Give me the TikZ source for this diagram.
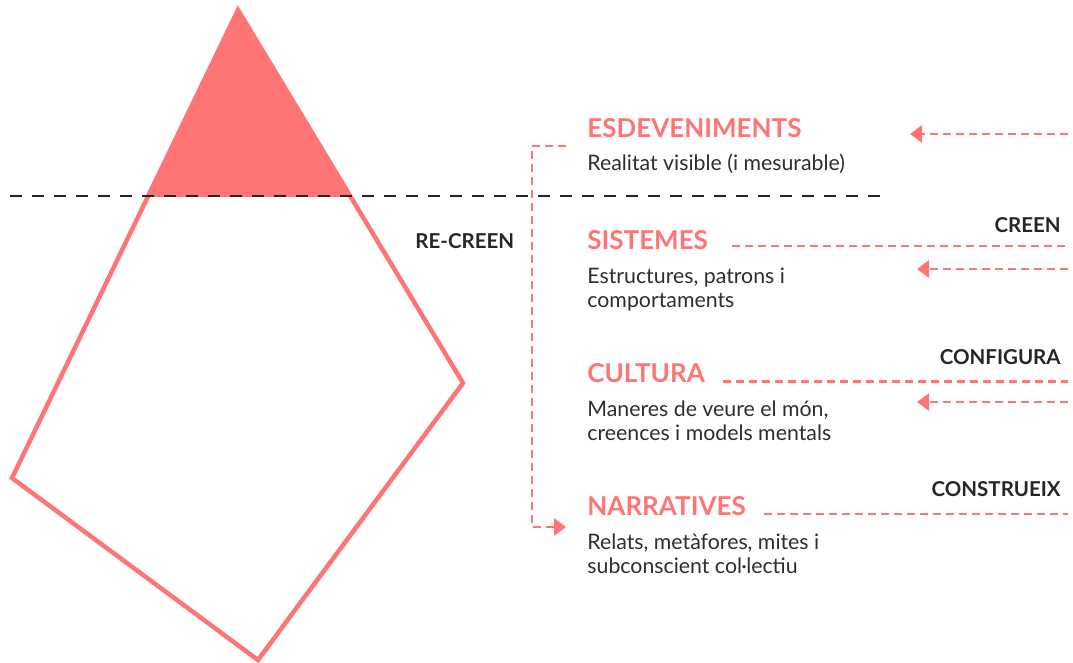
\documentclass[tikz,border=0pt]{standalone}
\usepackage{fontspec}
\setmainfont{Lato}
\usetikzlibrary{arrows.meta}
\usetikzlibrary{calc}
\definecolor{coral}{HTML}{FF7575}
\definecolor{ink}{HTML}{262626}
\definecolor{greytext}{HTML}{2E2E2E}

\begin{document}
\begin{tikzpicture}[x=1pt, y=-1pt,
    thick,
    >={Triangle[length=12pt,width=17pt]},
    level/.style={anchor=base west, inner sep=0pt, text=coral, font=\fontsize{26}{30}\selectfont\bfseries},
    desc/.style={anchor=base west, inner sep=0pt, align=left, text=greytext, font=\fontsize{21.3}{24}\selectfont},
    verb/.style={anchor=base east, inner sep=0pt, text=ink, font=\fontsize{20.5}{22}\selectfont\bfseries},
    link/.style={coral, line width=2.8pt, dash pattern=on 8pt off 5pt}]
\useasboundingbox (0,0) rectangle (1073,662);
\coordinate (top) at (238,10);
\coordinate (r) at (463,383);
\coordinate (b) at (258,660);
\coordinate (l) at (12,478);
\begin{scope}
  \clip (0,0) rectangle (1073,196);
  \fill[coral] (top) -- (r) -- (b) -- (l) -- cycle;
\end{scope}
\draw[coral, line width=4.5pt] (top) -- (r) -- (b) -- (l) -- cycle;
\draw[ink, line width=2.5pt, dash pattern=on 12pt off 10pt] (10,196) -- (880,196);

% base of a two-line text is its last line
\node[level] (esd) at (587,137) {ESDEVENIMENTS};
\node[desc] (esd-d) at (587,170) {Realitat visible (i mesurable)};
\node[level] (sis) at (587,249) {SISTEMES};
\node[desc] (sis-d) at (587,307) {Estructures, patrons i\\comportaments};
\node[level] (cul) at (587,382) {CULTURA};
\node[desc] (cul-d) at (587,440) {Maneres de veure el món,\\creences i models mentals};
\node[level] (nar) at (587,515) {NARRATIVES};
\node[desc] (nar-d) at (587,573) {Relats, metàfores, mites i\\subconscient col·lectiu};

\node[verb] (creen) at (1061,232) {CREEN};
\node[verb] (config) at (1061,364) {CONFIGURA};
\node[verb] (constr) at (1061,496) {CONSTRUEIX};
\node[verb, anchor=base west] (recreen) at (415,248) {RE-CREEN};

\coordinate (e1) at (1068,134);
\coordinate (a1) at (910,134);
\coordinate (e2) at (1068,246);
\coordinate (e3) at (1068,269);
\coordinate (a3) at (917,269);
\coordinate (e4) at (1068,381.5);
\coordinate (e5) at (1068,402);
\coordinate (a5) at (917,402);
\coordinate (e6) at (1068,514);
\coordinate (k1) at (566,146);
\coordinate (k2) at (566,527);

\draw[link, ->] (e1) -- (a1);
\draw[link] ($(e2 -| sis.east)+(24,0)$) -- (e2);
\draw[link, ->] (e3) -- (a3);
\draw[link] ($(e4 -| cul.east)+(18,0)$) -- (e4);
\draw[link, ->] (e5) -- (a5);
\draw[link] ($(e6 -| nar.east)+(18,0)$) -- (e6);
\draw[link, ->] (k1) -- ++(-34,0) |- (k2);
\end{tikzpicture}
\end{document}
